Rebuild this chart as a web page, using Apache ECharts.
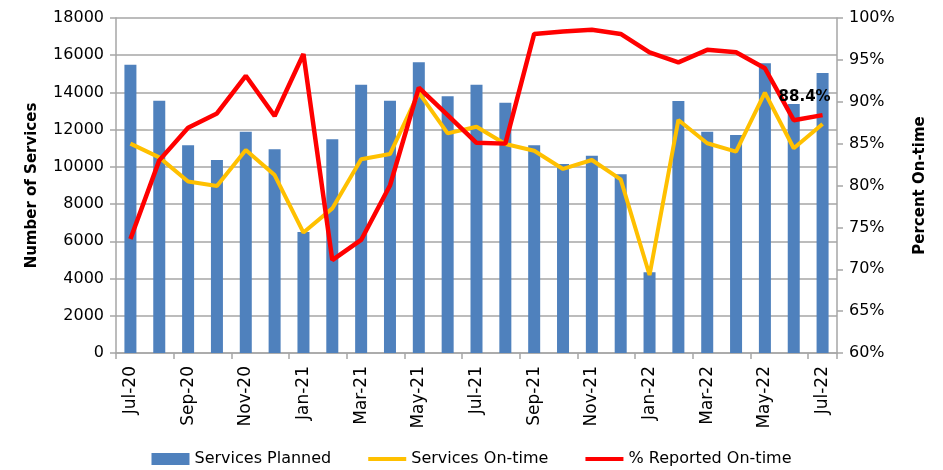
<!DOCTYPE html>
<html>
<head>
<meta charset="utf-8">
<script src="https://cdn.jsdelivr.net/npm/echarts@6/dist/echarts.min.js"></script>
<style>
  html, body { margin: 0; padding: 0; background: #fff; }
  #chart { width: 943px; height: 470px; }
</style>
</head>
<body>
<div id="chart"></div>
<script>
var months = ['Jul-20', 'Aug-20', 'Sep-20', 'Oct-20', 'Nov-20', 'Dec-20', 'Jan-21', 'Feb-21', 'Mar-21',
  'Apr-21', 'May-21', 'Jun-21', 'Jul-21', 'Aug-21', 'Sep-21', 'Oct-21', 'Nov-21', 'Dec-21',
  'Jan-22', 'Feb-22', 'Mar-22', 'Apr-22', 'May-22', 'Jun-22', 'Jul-22'];

var servicesPlanned = [15490, 13560, 11160, 10370, 11890, 10950, 6500, 11480, 14420,
  13560, 15620, 13790, 14420, 13450, 11160, 10150, 10600, 9600,
  4340, 13540, 11890, 11710, 15570, 13380, 15050];

var servicesOnTime = [11250, 10510, 9210, 8970, 10910, 9560, 6470, 7770, 10410,
  10690, 13990, 11800, 12160, 11230, 10870, 9890, 10370, 9330,
  4190, 12520, 11270, 10820, 13990, 11000, 12300];

var pctReported = [73.6, 83.0, 86.9, 88.6, 93.1, 88.3, 95.7, 71.1, 73.5,
  80.0, 91.7, 88.4, 85.1, 85.0, 98.1, 98.4, 98.6, 98.1,
  95.9, 94.7, 96.2, 95.9, 94.0, 87.8, 88.4];

var leftTicks = { min: 0, max: 18000, interval: 2000 };
var rightTicks = { min: 60, max: 100, interval: 5 };

var FONT = 'DejaVu Sans';
var gridGray = '#a6a6a6';
var lineIcon = 'path://M0,0L38,0L38,4L0,4Z';

// only the last point of the % line carries a label
var pctData = pctReported.map(function (v, i) {
  if (i == pctReported.length - 1) {
    return {
      value: v,
      symbol: 'circle',
      symbolSize: 0.1,
      label: {
        show: true,
        position: 'top',
        distance: 2,
        offset: [-18, -8],
        formatter: '{c}%',
        fontFamily: FONT,
        fontWeight: 'bold',
        fontSize: 15,
        color: '#000'
      }
    };
  }
  return v;
});

var myChart = echarts.init(document.getElementById('chart'), null, { renderer: 'canvas' });

option = {
  animation: false,
  textStyle: { fontFamily: FONT, color: '#000' },
  grid: { left: 116, right: 106, top: 18, bottom: 117, containLabel: false },
  legend: {
    bottom: 3,
    left: 'center',
    padding: 0,
    itemWidth: 38,
    itemHeight: 12,
    itemGap: 37,
    textStyle: { fontFamily: FONT, fontSize: 16, color: '#000' },
    data: [
      { name: 'Services Planned', icon: 'rect' },
      { name: 'Services On-time', icon: lineIcon, lineStyle: { width: 0 } },
      { name: '% Reported On-time', icon: lineIcon, lineStyle: { width: 0 } }
    ]
  },
  xAxis: {
    type: 'category',
    data: months,
    boundaryGap: true,
    axisLine: { lineStyle: { color: gridGray, width: 1.5 } },
    axisTick: { show: true, interval: 1, length: 6, lineStyle: { color: gridGray, width: 1.5 } },
    axisLabel: { interval: 1, rotate: 90, margin: 13, fontSize: 17, color: '#000', fontFamily: FONT }
  },
  yAxis: [
    {
      type: 'value',
      min: leftTicks.min,
      max: leftTicks.max,
      interval: leftTicks.interval,
      name: 'Number of Services',
      nameLocation: 'middle',
      nameGap: 76,
      nameTextStyle: { fontFamily: FONT, fontWeight: 'bold', fontSize: 15, color: '#000' },
      axisLine: { show: true, lineStyle: { color: gridGray, width: 1.5 } },
      axisTick: { show: true, length: 6, lineStyle: { color: gridGray, width: 1.5 } },
      axisLabel: {
        margin: 12, fontSize: 16, color: '#000', fontFamily: FONT,
        formatter: function (v) { return String(v); }
      },
      splitLine: { show: true, lineStyle: { color: gridGray, width: 1.5 } }
    },
    {
      type: 'value',
      min: rightTicks.min,
      max: rightTicks.max,
      interval: rightTicks.interval,
      name: 'Percent On-time',
      nameLocation: 'middle',
      nameGap: 76,
      nameTextStyle: { fontFamily: FONT, fontWeight: 'bold', fontSize: 15, color: '#000' },
      position: 'right',
      axisLine: { show: true, lineStyle: { color: gridGray, width: 1.5 } },
      axisTick: { show: true, length: 6, lineStyle: { color: gridGray, width: 1.5 } },
      axisLabel: { margin: 12, fontSize: 16, color: '#000', fontFamily: FONT, formatter: '{value}%' },
      splitLine: { show: false }
    }
  ],
  series: [
    {
      name: 'Services Planned',
      type: 'bar',
      yAxisIndex: 0,
      barWidth: 12,
      itemStyle: { color: '#4f81bd' },
      data: servicesPlanned
    },
    {
      name: 'Services On-time',
      type: 'line',
      yAxisIndex: 0,
      symbol: 'none',
      lineStyle: { color: '#ffc000', width: 4 },
      itemStyle: { color: '#ffc000' },
      data: servicesOnTime
    },
    {
      name: '% Reported On-time',
      type: 'line',
      yAxisIndex: 1,
      symbol: 'none',
      lineStyle: { color: '#ff0000', width: 4.5 },
      itemStyle: { color: '#ff0000' },
      data: pctData
    }
  ]
};

myChart.setOption(option, true);
</script>
</body>
</html>
